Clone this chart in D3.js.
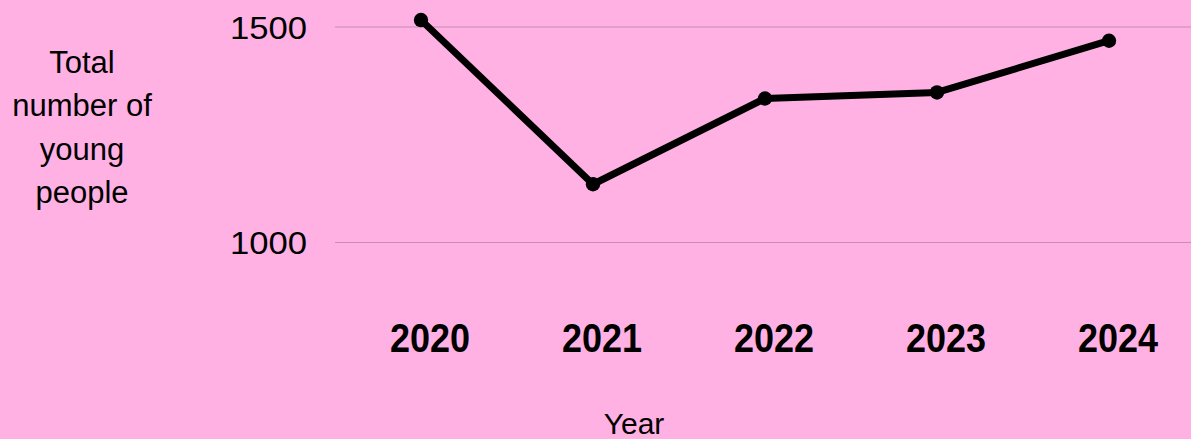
<!DOCTYPE html>
<html>
<head>
<meta charset="utf-8">
<script src="https://cdn.jsdelivr.net/npm/d3@7"></script>
<style>
  html, body { margin: 0; padding: 0; background: #ffb1e3; }
  svg { display: block; }
</style>
</head>
<body>
<svg id="chart" width="1191" height="439"></svg>
<script>
const years = ["2020", "2021", "2022", "2023", "2024"];
const youngPeople = [1515, 1134, 1333, 1347, 1467];
const yTicks = [1000, 1500];
const yTitleLines = ["Total", "number of", "young", "people"];
const xTitle = "Year";

const W = 1191, H = 439;
const svg = d3.select("#chart");
svg.append("rect").attr("width", W).attr("height", H).attr("fill", "#ffb1e3");

const x = d3.scaleBand().domain(years).range([335, 1195]);
const y = d3.scaleLinear().domain([1000, 1500]).range([242, 26.5]);

// y axis with gridlines
const yAxis = d3.axisLeft(y).tickValues(yTicks).tickSize(-(W - 335)).tickPadding(28).tickFormat(d3.format("d"));
const gy = svg.append("g").attr("transform", "translate(335,0)").call(yAxis);
gy.select(".domain").remove();
gy.selectAll(".tick line").attr("stroke", "#c48fb0").attr("stroke-width", 1.2);
gy.selectAll(".tick text")
  .attr("font-family", "Liberation Sans, Arial, sans-serif")
  .attr("font-size", 32)
  .attr("fill", "#000")
  .attr("textLength", 77)
  .attr("lengthAdjust", "spacingAndGlyphs")
  .attr("dy", "0.36em");

// x axis labels
const xAxis = d3.axisBottom(x).tickSize(0).tickPadding(0);
const gx = svg.append("g").attr("transform", "translate(9,323)").call(xAxis);
gx.select(".domain").remove();
gx.selectAll(".tick text")
  .attr("font-family", "Liberation Sans, Arial, sans-serif")
  .attr("font-weight", "bold")
  .attr("font-size", 40)
  .attr("fill", "#000")
  .attr("textLength", 80)
  .attr("lengthAdjust", "spacingAndGlyphs")
  .attr("dy", "0.72em");

// line
const cx = d => x(d) + x.bandwidth() / 2;
const data = years.map((yr, i) => ({ yr, v: youngPeople[i] }));
const line = d3.line().x(d => cx(d.yr)).y(d => y(d.v));
svg.append("path").datum(data)
  .attr("d", line)
  .attr("fill", "none")
  .attr("stroke", "#000")
  .attr("stroke-width", 7)
  .attr("stroke-linejoin", "round");
svg.selectAll("circle.pt").data(data).enter().append("circle")
  .attr("class", "pt")
  .attr("cx", d => cx(d.yr))
  .attr("cy", d => y(d.v))
  .attr("r", 7.2)
  .attr("fill", "#000");

// y title
const yt = svg.append("text")
  .attr("font-family", "Liberation Sans, Arial, sans-serif")
  .attr("font-size", 31)
  .attr("fill", "#000")
  .attr("text-anchor", "middle");
yt.selectAll("tspan").data(yTitleLines).enter().append("tspan")
  .attr("x", 82)
  .attr("y", (d, i) => 73 + i * 43.4)
  .text(d => d);

// x title
svg.append("text")
  .attr("x", 634).attr("y", 434)
  .attr("font-family", "Liberation Sans, Arial, sans-serif")
  .attr("font-size", 30)
  .attr("fill", "#000")
  .attr("text-anchor", "middle")
  .text(xTitle);
</script>
</body>
</html>
